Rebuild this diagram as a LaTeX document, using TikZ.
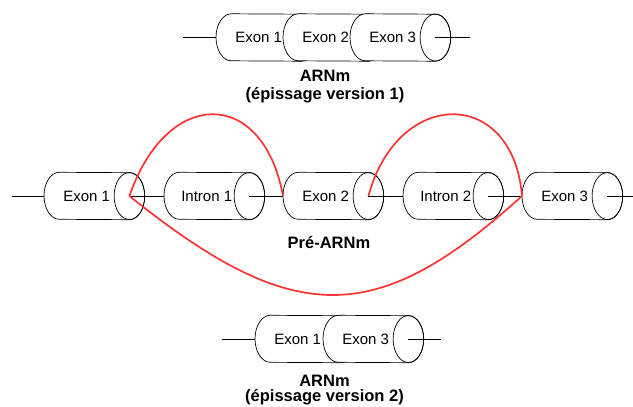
\documentclass[tikz,border=0pt]{standalone}
\usepackage{fontspec}
\setmainfont{Liberation Sans}
\definecolor{splicered}{RGB}{255,51,51}
\pgfdeclarelayer{background}
\pgfsetlayers{background,main}
\tikzset{
  segment/.style={rectangle, minimum width=85pt, minimum height=47pt, inner sep=0pt,
    anchor=west, font=\fontsize{15}{18}\selectfont},
  outline/.style={line width=0.7pt},
  stub/.style={line width=0.7pt},
  splice/.style={draw=splicered, line width=1.7pt},
  caption/.style={font=\bfseries\fontsize{16.5}{19}\selectfont, anchor=base}
}
% cylinder drawn behind a segment node: left bulge, body, end ellipse at .east
\newcommand{\segoutline}[1]{%
  \begin{pgfonlayer}{background}
    \draw[outline, fill=white] ([xshift=15.3pt]#1.north west)
      arc[start angle=90, end angle=270, x radius=15.3pt, y radius=23.5pt]
      -- (#1.south east)
      arc[start angle=-90, end angle=90, x radius=15.3pt, y radius=23.5pt] -- cycle;
    \draw[outline] (#1.east) ellipse[x radius=15.3pt, y radius=23.5pt];
  \end{pgfonlayer}}
\begin{document}
\begin{tikzpicture}[x=1pt,y=-1pt]
\useasboundingbox (0,0) rectangle (633,407);

% mature mRNA, version 1
\node[segment] (v1e1) at (216,37.5) {Exon 1};
\node[segment] (v1e2) at (283,37.5) {Exon 2};
\node[segment] (v1e3) at (350,37.5) {Exon 3};
\coordinate (v1l) at (183,37.5);
\coordinate (v1r) at (470,37.5);
\draw[stub] (v1l) -- (v1e1.west);
\draw[stub] (v1e3.east) -- (v1r);
\node[caption] (v1t) at (325,81) {ARNm};
\node[caption] (v1s) at (325,99.5) {(épissage version 1)};

% pre-mRNA
\node[segment] (ex1) at (44,196) {Exon 1};
\node[segment] (in1) at (164,196) {Intron 1};
\node[segment] (ex2) at (283,196) {Exon 2};
\node[segment] (in2) at (403,196) {Intron 2};
\node[segment] (ex3) at (522,196) {Exon 3};
\coordinate (pl) at (12,196);
\coordinate (pr) at (633,196);
\draw[stub] (pl) -- (ex1.west);
\draw[stub] (ex1.east) -- (in1.west);
\draw[stub] (in1.east) -- (ex2.west);
\draw[stub] (ex2.east) -- (in2.west);
\draw[stub] (in2.east) -- (ex3.west);
\draw[stub] (ex3.east) -- (pr);
\node[caption] (pt) at (329,248) {Pré-ARNm};

% splicing
\draw[splice] (ex1.east) .. controls (167,87) and (263,87) .. (ex2.west);
\draw[splice] (ex2.east) .. controls (398,87) and (513,87) .. (ex3.west);
\draw[splice] (ex1.east) .. controls (294,328) and (376,328) .. (ex3.west);

% mature mRNA, version 2
\node[segment] (v2e1) at (255,339) {Exon 1};
\node[segment] (v2e3) at (323,339) {Exon 3};
\coordinate (v2l) at (222,339);
\coordinate (v2r) at (441,339);
\draw[stub] (v2l) -- (v2e1.west);
\draw[stub] (v2e3.east) -- (v2r);
\node[caption] (v2t) at (324.5,386) {ARNm};
\node[caption] (v2s) at (324.5,401) {(épissage version 2)};

\foreach \s in {v1e1,v1e2,v1e3,ex1,in1,ex2,in2,ex3,v2e1,v2e3}
  {\segoutline{\s}}
\end{tikzpicture}
\end{document}
